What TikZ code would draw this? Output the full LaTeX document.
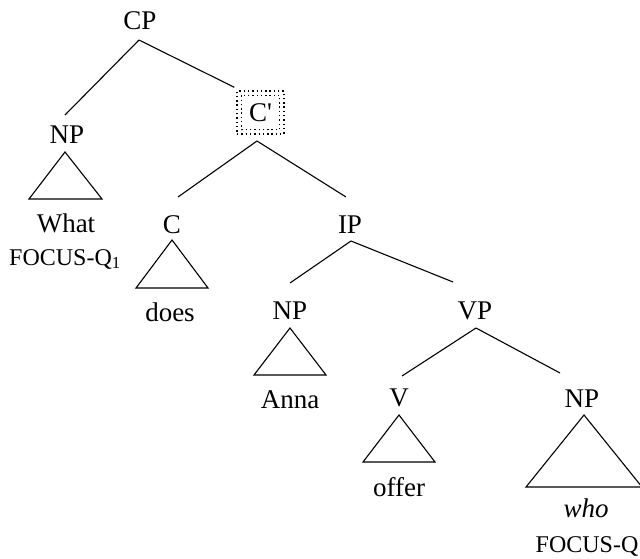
\documentclass[tikz,border=0pt]{standalone}
\usepackage{fontspec}
\setmainfont{Liberation Serif}
\begin{document}
\begin{tikzpicture}[x=1pt,y=-1pt,
  lab/.style={font=\fontsize{27}{30}\selectfont, inner sep=0pt, anchor=base},
  foc/.style={font=\fontsize{24}{27}\selectfont, inner sep=0pt, anchor=base},
  branch/.style={line width=1.1pt},
  tri/.style={line width=1.1pt, line join=miter},
  dots/.style={line width=1.4pt, dash pattern=on 1.4pt off 2.9pt},
  focusbox/.style={draw, dots, minimum width=47pt, minimum height=43pt, inner sep=0pt,
    font=\fontsize{27}{30}\selectfont}]
\useasboundingbox (0,0) rectangle (640,559);

% category labels
\node[lab] (cp)  at (140,30)  {CP};
\node[lab] (np1) at (67,143)  {NP};
\node[focusbox] (cb) at (260.5,112.5) {C\textquotesingle};
\draw[dots] ([shift={(5,5)}]cb.north west) rectangle ([shift={(-5,-5)}]cb.south east);
\node[lab] (c)   at (172,233) {C};
\node[lab] (ip)  at (350,233) {IP};
\node[lab] (np2) at (290,319) {NP};
\node[lab] (vp)  at (475,319) {VP};
\node[lab] (v)   at (399,406) {V};
\node[lab] (np3) at (582,407) {NP};

% words
\node[lab] (what)  at (66,232)  {What};
\node[foc] (fq1)   at (65,265)  {FOCUS-Q\textsubscript{1}};
\node[lab] (does)  at (170,321) {does};
\node[lab] (anna)  at (290,408) {Anna};
\node[lab] (offer) at (399,496) {offer};
\node[lab] (who)   at (586,517) {\itshape who};
\node[foc] (fq)    at (587,552) {FOCUS-Q};

% branching points below the mother nodes
\coordinate (cpb) at (139,40);
\coordinate (cbb) at (257,141);
\coordinate (ipb) at (351,241);
\coordinate (vpb) at (476,328);

% branches
\draw[branch] (cpb) -- (65,115) coordinate (np1t);
\draw[branch] (cpb) -- ([shift={(-2,-3)}]cb.north west);
\draw[branch] (cbb) -- (178,197) coordinate (ct);
\draw[branch] (cbb) -- (346,197) coordinate (ipt);
\draw[branch] (ipb) -- (290,283) coordinate (np2t);
\draw[branch] (ipb) -- (453,282) coordinate (vpt);
\draw[branch] (vpb) -- (402,376) coordinate (vt);
\draw[branch] (vpb) -- (560,373) coordinate (np3t);

% triangles over unanalysed constituents
\draw[tri] (65,152) -- (102,199) -- (29,199) -- cycle;
\draw[tri] (172,240) -- (208,288) -- (136,288) -- cycle;
\draw[tri] (290,328) -- (326,375) -- (254,375) -- cycle;
\draw[tri] (399,415) -- (435,462) -- (363,462) -- cycle;
\draw[tri] (584,415) -- (642,487) -- (526,487) -- cycle;
\end{tikzpicture}
\end{document}
